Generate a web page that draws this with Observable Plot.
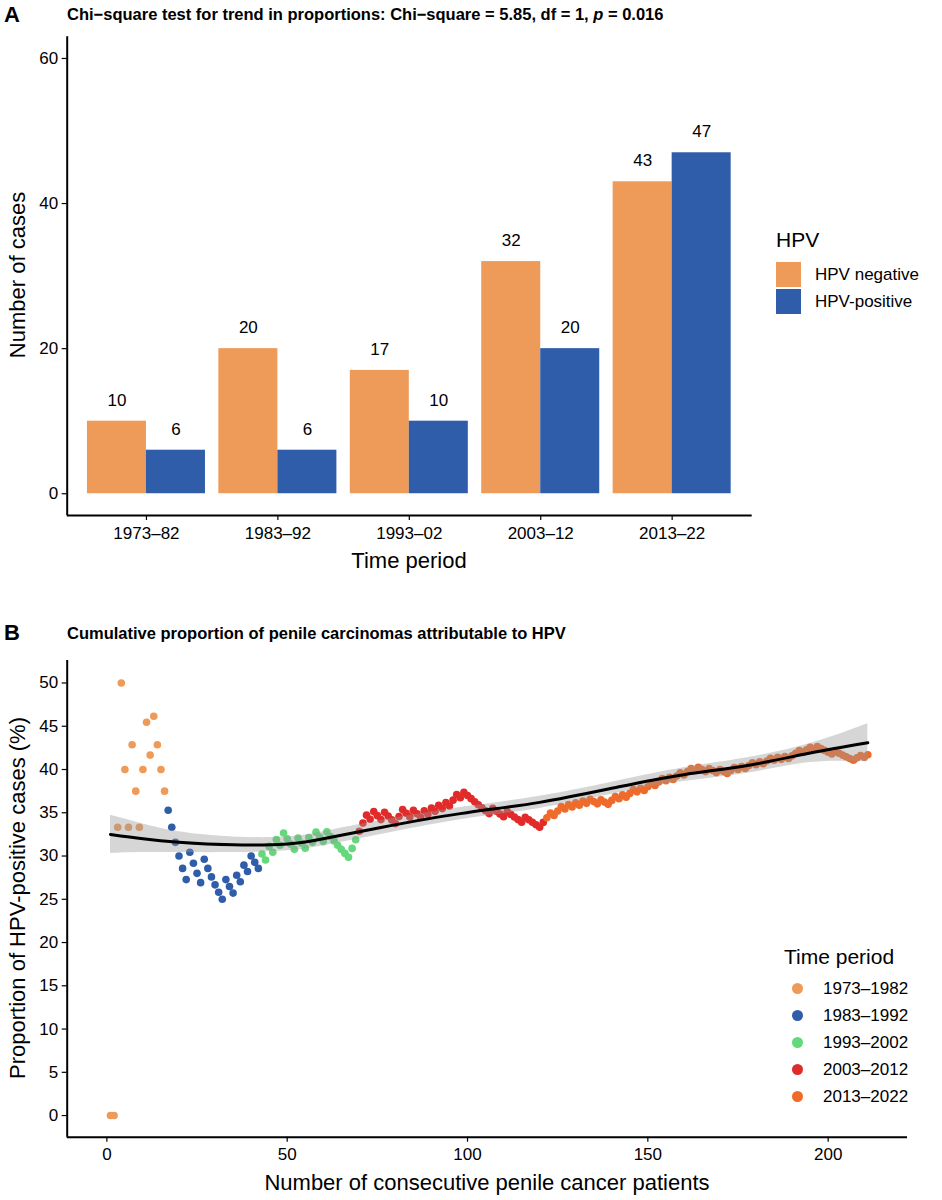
<!DOCTYPE html>
<html><head><meta charset="utf-8">
<script src="https://cdn.jsdelivr.net/npm/d3@7"></script>
<script src="https://cdn.jsdelivr.net/npm/@observablehq/plot@0.6"></script>
<style>
body{margin:0;width:942px;height:1200px;position:relative;font-family:"Liberation Sans",Arial,sans-serif;background:#fff;overflow:hidden}
.abs{position:absolute;white-space:nowrap;color:#000}
svg{font-family:"Liberation Sans",Arial,sans-serif}
</style></head><body>
<div id="A" class="abs" style="left:0;top:0"></div>
<div id="B" class="abs" style="left:0;top:600px"></div>
<div class="abs" style="left:4px;top:2px;font-size:22px;font-weight:bold">A</div>
<div class="abs" style="left:67px;top:5px;font-size:16.5px;font-weight:bold">Chi−square test for trend in proportions: Chi−square = 5.85, df = 1, <i>p</i> = 0.016</div>
<div class="abs" style="left:4px;top:620px;font-size:22px;font-weight:bold">B</div>
<div class="abs" style="left:67px;top:624px;font-size:16.5px;font-weight:bold">Cumulative proportion of penile carcinomas attributable to HPV</div>
<div class="abs" style="left:409px;top:548px;font-size:22px;transform:translateX(-50%)">Time period</div>
<div class="abs" style="left:18px;top:275px;font-size:22px;transform:translate(-50%,-50%) rotate(-90deg)">Number of cases</div>
<div class="abs" style="left:487px;top:1170px;font-size:22px;transform:translateX(-50%)">Number of consecutive penile cancer patients</div>
<div class="abs" style="left:18px;top:898px;font-size:22px;transform:translate(-50%,-50%) rotate(-90deg)">Proportion of HPV-positive cases (%)</div>
<div id="legA" class="abs" style="left:776px;top:228px"></div>
<div id="legB" class="abs" style="left:784px;top:945px"></div>
<script>
// Panel A data
const periods = ["1973–82","1983–92","1993–02","2003–12","2013–22"];
const hpvNegative = [10,20,17,32,43];
const hpvPositive = [6,6,10,20,47];
const hpvGroups = ["HPV negative","HPV-positive"];
const barColors = ["#EE9A58","#2F5DA9"];

// Panel B data: HPV status (1 = positive) of consecutive patients, per period
const periodLabels = ["1973–1982","1983–1992","1993–2002","2003–2012","2013–2022"];
const periodColors = ["#EE9A58","#2F5DA9","#63D97C","#E12B2A","#EE6B2B"];
const statusByPeriod = [
  "0011001001101000",
  "00000010001000001001010100",
  "101010100010010100100000011",
  "1110100100011001001010101011010000000100010000100001",
  "110110101"+"0101001001"+"1010110101"+"1011010110"+"11010"+"0100100"+"11010110"+"1011010101"+"11011010"+"000100000"+"1101"
];
// smooth fit
const smoothX  = [1,10,20,35,50,60,76,98,120,142,160,178,195,211];
const smoothY  = [32.5,32.0,31.6,31.3,31.4,32.0,33.3,34.9,36.2,38.0,39.4,40.5,41.9,43.1];
const smoothLo = [30.3,30.4,30.4,30.4,30.6,31.2,32.5,34.2,35.5,37.3,38.6,39.6,40.8,40.9];
const smoothHi = [34.7,33.7,32.8,32.2,32.2,32.8,34.1,35.6,36.9,38.7,40.2,41.4,43.0,45.3];

// ---- Panel A
const bars = [];
periods.forEach((p,i)=>{
  bars.push({i, p, g:hpvGroups[0], v:hpvNegative[i], x1:i-0.449, x2:i});
  bars.push({i, p, g:hpvGroups[1], v:hpvPositive[i], x1:i, x2:i+0.449});
});
const plotA = Plot.plot({
  width:942, height:600, marginLeft:66.7, marginRight:190.3, marginTop:36.2, marginBottom:85,
  style:{fontSize:"17px", color:"#000"},
  x:{domain:[-0.603,4.609], axis:null},
  y:{domain:[-3,63], axis:null},
  color:{domain:hpvGroups, range:barColors},
  marks:[
    Plot.rectY(bars,{x1:"x1", x2:"x2", y1:0, y2:"v", fill:"g"}),
    Plot.text(bars,{x:d=>(d.x1+d.x2)/2, y:"v", text:d=>String(d.v), dy:-21, fontSize:17, fill:"#000"}),
    Plot.axisY({ticks:[0,20,40,60], tickSize:5, tickPadding:4, label:null, fontSize:17, strokeWidth:1.2}),
    Plot.axisX({ticks:d3.range(5), tickFormat:i=>periods[i], tickSize:5, tickPadding:6, label:null, fontSize:17, anchor:"bottom", strokeWidth:1.2}),
    Plot.ruleX([-0.603],{y1:-3,y2:63,strokeWidth:2}),
    Plot.ruleY([-3],{x1:-0.603,x2:4.609,strokeWidth:2})
  ]
});
document.getElementById("A").appendChild(plotA);

// ---- Panel B
const pts = [];
let n=0,k=0;
statusByPeriod.forEach((s,pi)=>{
  for(const c of s){ n++; k+= +c; pts.push({n, prop:100*k/n, period:periodLabels[pi]}); }
});
const smooth = smoothX.map((x,i)=>({x, y:smoothY[i], lo:smoothLo[i], hi:smoothHi[i]}));
const plotB = Plot.plot({
  width:942, height:600, marginLeft:66.7, marginRight:35, marginTop:60, marginBottom:63.3,
  style:{fontSize:"17px", color:"#000"},
  x:{domain:[-11,222], axis:null},
  y:{domain:[-2.5,52.6], axis:null},
  color:{domain:periodLabels, range:periodColors},
  marks:[
    Plot.dot(pts,{x:"n", y:"prop", fill:"period", r:3.8}),
    Plot.areaY(smooth,{x:"x", y1:"lo", y2:"hi", fill:"#999", fillOpacity:0.4, curve:"natural"}),
    Plot.line(smooth,{x:"x", y:"y", stroke:"#000", strokeWidth:3, curve:"natural"}),
    Plot.axisY({ticks:d3.range(0,51,5), tickSize:5, tickPadding:4, label:null, fontSize:17, strokeWidth:1.2}),
    Plot.axisX({ticks:[0,50,100,150,200], tickSize:5, tickPadding:6, label:null, fontSize:17, strokeWidth:1.2}),
    Plot.ruleX([-11],{y1:-2.5,y2:52.6,strokeWidth:2}),
    Plot.ruleY([-2.5],{x1:-11,x2:222,strokeWidth:2})
  ]
});
document.getElementById("B").appendChild(plotB);

// Legends
const la = document.getElementById("legA");
la.innerHTML = `<div style="font-size:21px;margin-bottom:9px">HPV</div>` +
  hpvGroups.map((g,i)=>`<div style="display:flex;align-items:center;height:27px;font-size:17px"><span style="display:inline-block;width:25px;height:25px;background:${barColors[i]};margin-right:14px"></span>${g}</div>`).join("");
const lb = document.getElementById("legB");
lb.innerHTML = `<div style="font-size:21px;margin-bottom:6px">Time period</div>` +
  periodLabels.map((g,i)=>`<div style="display:flex;align-items:center;height:27px;font-size:17px"><span style="display:inline-block;width:11px;height:11px;border-radius:50%;background:${periodColors[i]};margin-left:8px;margin-right:20px"></span>${g}</div>`).join("");
</script>
</body></html>
